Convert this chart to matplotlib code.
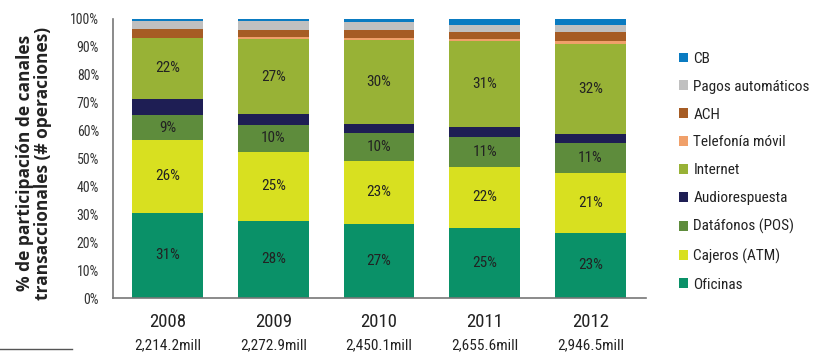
import matplotlib
matplotlib.use("Agg")
import matplotlib.pyplot as plt
from matplotlib import font_manager
from matplotlib.font_manager import FontProperties
from matplotlib.patches import Patch
import numpy as np

years = ["2008", "2009", "2010", "2011", "2012"]
totals = ["2,214.2mill", "2,272.9mill", "2,450.1mill", "2,655.6mill", "2,946.5mill"]

# stacked bottom -> top, shares in %
oficinas = [30.6, 27.6, 26.6, 25.0, 23.4]
cajeros = [26.0, 24.9, 22.6, 22.1, 21.4]
datafonos = [9.0, 9.6, 9.9, 10.7, 10.9]
audiorespuesta = [5.8, 3.9, 3.4, 3.5, 3.2]
internet = [21.9, 26.7, 30.0, 30.7, 32.0]
telefonia = [0.0, 0.7, 0.8, 0.8, 1.3]
ach = [3.0, 2.8, 2.8, 2.6, 3.0]
pagos = [3.1, 3.2, 2.8, 2.6, 2.5]
cb = [0.6, 0.6, 1.1, 2.0, 2.3]

series = [
    ("Oficinas", oficinas, "#0A9168", True),
    ("Cajeros (ATM)", cajeros, "#D8E020", True),
    ("Datáfonos (POS)", datafonos, "#5E8C3C", True),
    ("Audiorespuesta", audiorespuesta, "#1E1E54", False),
    ("Internet", internet, "#98B236", True),
    ("Telefonía móvil", telefonia, "#F0A06A", False),
    ("ACH", ach, "#A65C24", False),
    ("Pagos automáticos", pagos, "#C0C0C0", False),
    ("CB", cb, "#0A7BC1", False),
]


def find_condensed(bold):
    ents = font_manager.fontManager.ttflist
    def cond(f):
        s = str(f.stretch).lower()
        n = (f.name + " " + f.fname).lower()
        return (s in ("condensed", "semi-condensed") or "condensed" in n or "narrow" in n) \
            and "extra" not in s and "ultra" not in s and "extracondensed" not in n \
            and "extra condensed" not in n
    def isbold(f):
        w = f.weight
        if isinstance(w, str):
            return w.lower() in ("bold",)
        return w == 700
    def isreg(f):
        w = f.weight
        if isinstance(w, str):
            return w.lower() in ("normal", "regular", "book")
        return w == 400
    good = [f for f in ents if cond(f) and f.style == "normal" and (isbold(f) if bold else isreg(f))]
    prefs = ["roboto", "open sans", "noto sans", "dejavu sans", "liberation", "lato", "inter"]
    for p in prefs:
        for f in good:
            if f.name.lower().startswith(p) and "mono" not in f.name.lower() and "serif" not in f.name.lower():
                return f.fname
    for f in good:
        if "mono" not in f.name.lower() and "serif" not in f.name.lower():
            return f.fname
    return None

reg_file = find_condensed(False)
if reg_file:
    FP = lambda: FontProperties(fname=reg_file)
    scale = 1.0
else:
    FP = lambda: FontProperties(family="DejaVu Sans")
    scale = 0.85


def fp(size):
    p = FP()
    p.set_size(size * scale)
    return p

fig = plt.figure(figsize=(8.13, 3.53), dpi=100)
ax = fig.add_axes([113/813, 1-298/353, (646-113)/813, (298-19)/353])

x = np.arange(len(years))
bottom = np.zeros(len(years))
handles = []
for name, vals, color, show in series:
    v = np.array(vals) / 100.0
    ax.bar(x, v, 0.67, bottom=bottom, color=color, edgecolor='none')
    if show:
        for xi, (b, h, raw) in enumerate(zip(bottom, v, vals)):
            ax.text(xi, b + h/2, f"{round(raw)}%", ha='center', va='center',
                    fontproperties=fp(11), color='#222222')
    bottom = bottom + v
    handles.append(Patch(facecolor=color, edgecolor='none', label=name))

ax.set_ylim(0, 1.0)
ax.set_xlim(-0.515, 4.525)
ax.set_yticks(np.linspace(0, 1, 11))
ax.set_yticklabels([f"{int(t)}%" for t in np.linspace(0, 100, 11)], color='#333333')
for lab in ax.get_yticklabels():
    lab.set_fontproperties(fp(10))
ax.tick_params(axis='y', length=0, pad=10)
ax.tick_params(axis='x', length=0, pad=11)
ax.set_xticks(x)
ax.set_xticklabels(years, color='#222222')
for lab in ax.get_xticklabels():
    lab.set_fontproperties(fp(13.5))
for xi, t in enumerate(totals):
    ax.text(xi, -0.168, t, transform=ax.get_xaxis_transform(), ha='center', va='center',
            fontproperties=fp(11), color='#222222')

for s in ['top', 'right']:
    ax.spines[s].set_visible(False)
for s in ['left', 'bottom']:
    ax.spines[s].set_color('#777777')
    ax.spines[s].set_linewidth(1.2)

fig.text(34/813, 1-163/353, "% de participación de canales\ntransaccionales (# operaciones)",
         rotation=90, ha='center', va='center', family=['Open Sans', 'DejaVu Sans'],
         fontweight='bold', fontsize=12.5, color='#222222', linespacing=1.0)

fig.add_artist(plt.Line2D([0, 72/813], [1-349/353, 1-349/353], color='#555555', lw=1))

leg = fig.legend(handles=handles[::-1], loc='upper left', bbox_to_anchor=(665/813, 1-38/353),
                 frameon=False, prop=fp(11), handlelength=0.6, handleheight=0.6,
                 handletextpad=0.35, labelspacing=0.91, labelcolor='#222222')

fig.savefig("out.png", dpi=100)
